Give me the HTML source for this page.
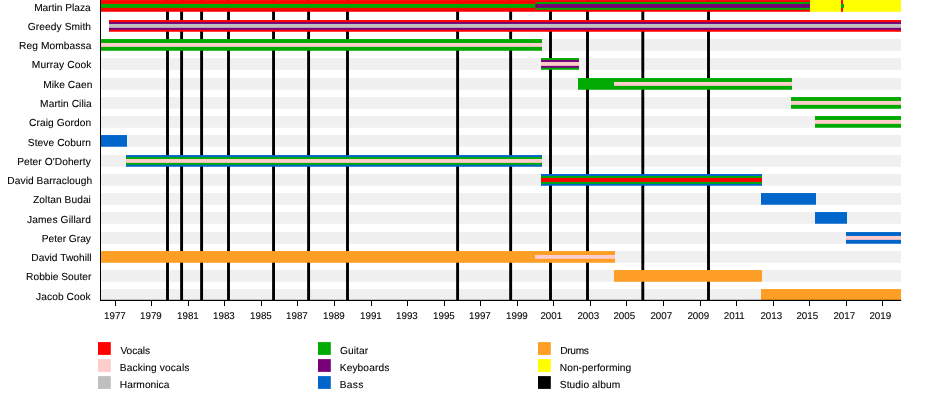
<!DOCTYPE html>
<html><head><meta charset="utf-8"><title>Timeline</title>
<style>html,body{margin:0;padding:0;background:#fff}svg{display:block}text{font-family:"Liberation Sans",Arial,Helvetica,sans-serif;font-size:10.2px;text-rendering:geometricPrecision;fill:#000;stroke:#000;stroke-width:0.08px}</style></head>
<body>
<svg width="950" height="400" viewBox="0 0 950 400">
<rect width="950" height="400" fill="#fff"/>
<defs><clipPath id="c"><rect x="0" y="0" width="950" height="300.5"/></clipPath></defs>
<g clip-path="url(#c)">
<rect x="101" y="0.05" width="800" height="11.7" fill="#f0f0f0"/>
<rect x="109" y="20.05" width="792" height="11.7" fill="#f0f0f0"/>
<rect x="101" y="39.05" width="800" height="11.7" fill="#f0f0f0"/>
<rect x="101" y="58.05" width="800" height="11.7" fill="#f0f0f0"/>
<rect x="101" y="78.05" width="800" height="11.7" fill="#f0f0f0"/>
<rect x="101" y="97.05" width="800" height="11.7" fill="#f0f0f0"/>
<rect x="101" y="116.05" width="800" height="11.7" fill="#f0f0f0"/>
<rect x="101" y="135.05" width="800" height="11.7" fill="#f0f0f0"/>
<rect x="101" y="155.05" width="800" height="11.7" fill="#f0f0f0"/>
<rect x="101" y="174.05" width="800" height="11.7" fill="#f0f0f0"/>
<rect x="101" y="193.05" width="800" height="11.7" fill="#f0f0f0"/>
<rect x="101" y="212.05" width="800" height="11.7" fill="#f0f0f0"/>
<rect x="101" y="232.05" width="800" height="11.7" fill="#f0f0f0"/>
<rect x="101" y="251.05" width="800" height="11.7" fill="#f0f0f0"/>
<rect x="101" y="270.05" width="800" height="11.7" fill="#f0f0f0"/>
<rect x="101" y="289.05" width="800" height="11.7" fill="#f0f0f0"/>
</g>
<g clip-path="url(#c)">
<rect x="166.05" y="0" width="2.9" height="300" fill="#000"/>
<rect x="180.15" y="0" width="2.9" height="300" fill="#000"/>
<rect x="200.15" y="0" width="2.9" height="300" fill="#000"/>
<rect x="227.05" y="0" width="2.9" height="300" fill="#000"/>
<rect x="272.10" y="0" width="2.9" height="300" fill="#000"/>
<rect x="307.15" y="0" width="2.9" height="300" fill="#000"/>
<rect x="346.05" y="0" width="2.9" height="300" fill="#000"/>
<rect x="456.15" y="0" width="2.9" height="300" fill="#000"/>
<rect x="509.20" y="0" width="2.9" height="300" fill="#000"/>
<rect x="549.05" y="0" width="2.9" height="300" fill="#000"/>
<rect x="586.05" y="0" width="2.9" height="300" fill="#000"/>
<rect x="641.35" y="0" width="2.9" height="300" fill="#000"/>
<rect x="707.05" y="0" width="2.9" height="300" fill="#000"/>
</g>
<g clip-path="url(#c)">
<rect x="101" y="0.05" width="709" height="11.70" fill="#ff0000"/>
<rect x="101" y="3.95" width="434.4" height="3.90" fill="#00aa00"/>
<rect x="535.4" y="2.00" width="274.6" height="7.80" fill="#00aa00"/>
<rect x="535.4" y="3.95" width="274.6" height="3.90" fill="#780078"/>
<rect x="810" y="0.05" width="91" height="11.70" fill="#ffff00"/>
<rect x="841" y="0.05" width="2" height="11.70" fill="#ff0000"/>
<rect x="841" y="3.95" width="3" height="3.90" fill="#00aa00"/>
<rect x="109" y="20.05" width="792" height="11.70" fill="#ff0000"/>
<rect x="109" y="22.00" width="792" height="7.80" fill="#780078"/>
<rect x="109" y="23.95" width="792" height="3.90" fill="#bfbfbf"/>
<rect x="101" y="39.05" width="441" height="11.70" fill="#00aa00"/>
<rect x="101" y="42.95" width="441" height="3.90" fill="#ffcccc"/>
<rect x="541" y="58.05" width="38" height="11.70" fill="#00aa00"/>
<rect x="541" y="60.00" width="38" height="7.80" fill="#780078"/>
<rect x="541" y="61.95" width="38" height="3.90" fill="#ffcccc"/>
<rect x="578" y="78.05" width="214" height="11.70" fill="#00aa00"/>
<rect x="614" y="81.95" width="178" height="3.90" fill="#ffcccc"/>
<rect x="791" y="97.05" width="110" height="11.70" fill="#00aa00"/>
<rect x="791" y="100.95" width="110" height="3.90" fill="#ffcccc"/>
<rect x="815" y="116.05" width="86" height="11.70" fill="#00aa00"/>
<rect x="815" y="119.95" width="86" height="3.90" fill="#ffcccc"/>
<rect x="101" y="135.05" width="26" height="11.70" fill="#0066cc"/>
<rect x="126" y="155.05" width="416" height="11.70" fill="#0066cc"/>
<rect x="126" y="157.00" width="416" height="7.80" fill="#00aa00"/>
<rect x="126" y="158.95" width="416" height="3.90" fill="#ffcccc"/>
<rect x="541" y="174.05" width="221" height="11.70" fill="#0066cc"/>
<rect x="541" y="176.00" width="221" height="7.80" fill="#00aa00"/>
<rect x="541" y="177.95" width="221" height="3.90" fill="#ff0000"/>
<rect x="761" y="193.05" width="55" height="11.70" fill="#0066cc"/>
<rect x="815" y="212.05" width="32" height="11.70" fill="#0066cc"/>
<rect x="846" y="232.05" width="55" height="11.70" fill="#0066cc"/>
<rect x="846" y="235.95" width="55" height="3.90" fill="#ffcccc"/>
<rect x="101" y="251.05" width="514" height="11.70" fill="#ff9e24"/>
<rect x="535" y="254.95" width="80" height="3.90" fill="#ffcccc"/>
<rect x="614" y="270.05" width="148" height="11.70" fill="#ff9e24"/>
<rect x="761" y="289.05" width="140" height="11.70" fill="#ff9e24"/>
</g>
<g>
<rect x="100" y="0" width="1" height="301" fill="#000" shape-rendering="crispEdges"/>
<rect x="100" y="299.8" width="801.2" height="1.2" fill="#000"/>
<rect x="115" y="300" width="1" height="6" fill="#000" shape-rendering="crispEdges"/>
<rect x="151" y="300" width="1" height="6" fill="#000" shape-rendering="crispEdges"/>
<rect x="188" y="300" width="1" height="6" fill="#000" shape-rendering="crispEdges"/>
<rect x="224" y="300" width="1" height="6" fill="#000" shape-rendering="crispEdges"/>
<rect x="261" y="300" width="1" height="6" fill="#000" shape-rendering="crispEdges"/>
<rect x="297" y="300" width="1" height="6" fill="#000" shape-rendering="crispEdges"/>
<rect x="334" y="300" width="1" height="6" fill="#000" shape-rendering="crispEdges"/>
<rect x="371" y="300" width="1" height="6" fill="#000" shape-rendering="crispEdges"/>
<rect x="407" y="300" width="1" height="6" fill="#000" shape-rendering="crispEdges"/>
<rect x="444" y="300" width="1" height="6" fill="#000" shape-rendering="crispEdges"/>
<rect x="480" y="300" width="1" height="6" fill="#000" shape-rendering="crispEdges"/>
<rect x="517" y="300" width="1" height="6" fill="#000" shape-rendering="crispEdges"/>
<rect x="553" y="300" width="1" height="6" fill="#000" shape-rendering="crispEdges"/>
<rect x="590" y="300" width="1" height="6" fill="#000" shape-rendering="crispEdges"/>
<rect x="626" y="300" width="1" height="6" fill="#000" shape-rendering="crispEdges"/>
<rect x="663" y="300" width="1" height="6" fill="#000" shape-rendering="crispEdges"/>
<rect x="700" y="300" width="1" height="6" fill="#000" shape-rendering="crispEdges"/>
<rect x="736" y="300" width="1" height="6" fill="#000" shape-rendering="crispEdges"/>
<rect x="773" y="300" width="1" height="6" fill="#000" shape-rendering="crispEdges"/>
<rect x="809" y="300" width="1" height="6" fill="#000" shape-rendering="crispEdges"/>
<rect x="846" y="300" width="1" height="6" fill="#000" shape-rendering="crispEdges"/>
<rect x="882" y="300" width="1" height="6" fill="#000" shape-rendering="crispEdges"/>
</g>
<text x="114.9" y="318.5" text-anchor="middle" style="font-size:9.8px">1977</text>
<text x="150.9" y="318.5" text-anchor="middle" style="font-size:9.8px">1979</text>
<text x="187.9" y="318.5" text-anchor="middle" style="font-size:9.8px">1981</text>
<text x="223.9" y="318.5" text-anchor="middle" style="font-size:9.8px">1983</text>
<text x="260.9" y="318.5" text-anchor="middle" style="font-size:9.8px">1985</text>
<text x="296.9" y="318.5" text-anchor="middle" style="font-size:9.8px">1987</text>
<text x="333.9" y="318.5" text-anchor="middle" style="font-size:9.8px">1989</text>
<text x="370.9" y="318.5" text-anchor="middle" style="font-size:9.8px">1991</text>
<text x="406.9" y="318.5" text-anchor="middle" style="font-size:9.8px">1993</text>
<text x="443.9" y="318.5" text-anchor="middle" style="font-size:9.8px">1995</text>
<text x="479.9" y="318.5" text-anchor="middle" style="font-size:9.8px">1997</text>
<text x="516.9" y="318.5" text-anchor="middle" style="font-size:9.8px">1999</text>
<text x="551.3" y="318.5" text-anchor="middle" style="font-size:9.8px">2001</text>
<text x="588.3" y="318.5" text-anchor="middle" style="font-size:9.8px">2003</text>
<text x="624.3" y="318.5" text-anchor="middle" style="font-size:9.8px">2005</text>
<text x="661.3" y="318.5" text-anchor="middle" style="font-size:9.8px">2007</text>
<text x="698.3" y="318.5" text-anchor="middle" style="font-size:9.8px">2009</text>
<text x="734.3" y="318.5" text-anchor="middle" style="font-size:9.8px">2011</text>
<text x="771.3" y="318.5" text-anchor="middle" style="font-size:9.8px">2013</text>
<text x="807.3" y="318.5" text-anchor="middle" style="font-size:9.8px">2015</text>
<text x="844.3" y="318.5" text-anchor="middle" style="font-size:9.8px">2017</text>
<text x="880.3" y="318.5" text-anchor="middle" style="font-size:9.8px">2019</text>
<text x="34.13" y="10.8" textLength="56.5" lengthAdjust="spacing">Martin Plaza</text>
<text x="27.8" y="29.8" textLength="63.21" lengthAdjust="spacing">Greedy Smith</text>
<text x="19.12" y="48.8" textLength="72.25" lengthAdjust="spacing">Reg Mombassa</text>
<text x="31.85" y="67.8" textLength="59.61" lengthAdjust="spacing">Murray Cook</text>
<text x="43.13" y="87.6" textLength="49.2" lengthAdjust="spacing">Mike Caen</text>
<text x="40.12" y="106.6" textLength="51.62" lengthAdjust="spacing">Martin Cilia</text>
<text x="29.03" y="126" textLength="62.03" lengthAdjust="spacing">Craig Gordon</text>
<text x="27.77" y="145.6" textLength="63.22" lengthAdjust="spacing">Steve Coburn</text>
<text x="17.13" y="164.6" textLength="73.68" lengthAdjust="spacing">Peter O&#39;Doherty</text>
<text x="7.32" y="183.8" textLength="84.89" lengthAdjust="spacing">David Barraclough</text>
<text x="33.06" y="202.8" textLength="57.82" lengthAdjust="spacing">Zoltan Budai</text>
<text x="26.94" y="222.6" textLength="63.86" lengthAdjust="spacing">James Gillard</text>
<text x="41.85" y="241.7" textLength="49.01" lengthAdjust="spacing">Peter Gray</text>
<text x="31.32" y="260.8" textLength="60.24" lengthAdjust="spacing">David Twohill</text>
<text x="26.12" y="279.9" textLength="65.24" lengthAdjust="spacing">Robbie Souter</text>
<text x="36.12" y="299.5" textLength="54.35" lengthAdjust="spacing">Jacob Cook</text>
<rect x="98" y="342.1" width="12.8" height="12.8" fill="#ff0000"/>
<text x="120.38" y="353.7" textLength="29.75" lengthAdjust="spacing">Vocals</text>
<rect x="98" y="359.1" width="12.8" height="12.8" fill="#ffcccc"/>
<text x="119.74" y="370.7" textLength="69.63" lengthAdjust="spacing">Backing vocals</text>
<rect x="98" y="376.1" width="12.8" height="12.8" fill="#bfbfbf"/>
<text x="119.78" y="387.7" textLength="49.64" lengthAdjust="spacing">Harmonica</text>
<rect x="318" y="342.1" width="12.8" height="12.8" fill="#00aa00"/>
<text x="340.09" y="353.7" textLength="27.99" lengthAdjust="spacing">Guitar</text>
<rect x="318" y="359.1" width="12.8" height="12.8" fill="#780078"/>
<text x="339.78" y="370.7" textLength="49.47" lengthAdjust="spacing">Keyboards</text>
<rect x="318" y="376.1" width="12.8" height="12.8" fill="#0066cc"/>
<text x="339.74" y="387.7" textLength="23.48" lengthAdjust="spacing">Bass</text>
<rect x="538" y="342.1" width="12.8" height="12.8" fill="#ff9e24"/>
<text x="560.32" y="353.7" textLength="28.55" lengthAdjust="spacing">Drums</text>
<rect x="538" y="359.1" width="12.8" height="12.8" fill="#ffff00"/>
<text x="559.78" y="370.7" textLength="71.36" lengthAdjust="spacing">Non-performing</text>
<rect x="538" y="376.1" width="12.8" height="12.8" fill="#000"/>
<text x="559.78" y="387.7" textLength="60.35" lengthAdjust="spacing">Studio album</text>
</svg>
</body></html>
